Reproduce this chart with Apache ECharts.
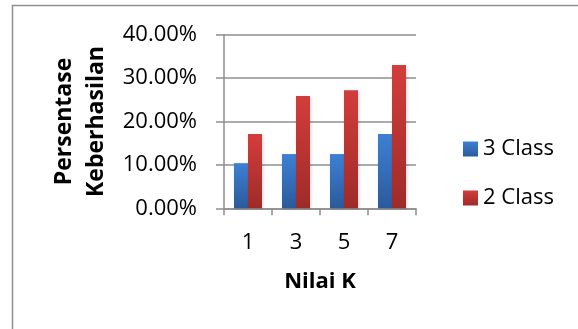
<!DOCTYPE html>
<html>
<head>
<meta charset="utf-8">
<script src="https://cdn.jsdelivr.net/npm/echarts@6/dist/echarts.min.js"></script>
<style>
  html, body { margin: 0; padding: 0; background: #fff; overflow: hidden; }
  #chart { width: 578px; height: 329px; }
</style>
</head>
<body>
<div id="chart"></div>
<script>
// K values on the x axis
const categories = ['1', '3', '5', '7'];
// Success percentage per K value
const class3 = [10.4, 12.5, 12.5, 17.1];
const class2 = [17.1, 25.9, 27.2, 33.0];
const seriesNames = ['3 Class', '2 Class'];
const yTicks = [0, 10, 20, 30, 40];

const FONT = '"Open Sans", sans-serif';

function vGrad(top, bottom) {
  return new echarts.graphic.LinearGradient(0, 0, 0, 1, [
    { offset: 0, color: top },
    { offset: 1, color: bottom }
  ]);
}

const chart = echarts.init(document.getElementById('chart'), null, { renderer: 'canvas' });

chart.setOption({
  animation: false,
  backgroundColor: '#fff',
  // chart-area frame: only its left and top edges fall inside the page
  graphic: [{
    type: 'polyline',
    shape: { points: [[12.5, 329], [12.5, 5.5], [578, 5.5]] },
    style: { fill: 'none', stroke: '#8f8f8f', lineWidth: 1.5 },
    silent: true
  }],
  grid: { left: 224, right: 162, top: 34.7, bottom: 120.7 },
  legend: {
    orient: 'vertical',
    left: 458,
    top: 133,
    icon: 'rect',
    itemWidth: 15,
    itemHeight: 15,
    itemGap: 27,
    textStyle: { fontFamily: FONT, fontSize: 22, color: '#000' },
    data: seriesNames
  },
  xAxis: {
    type: 'category',
    data: categories,
    name: 'Nilai K',
    nameLocation: 'middle',
    nameGap: 62,
    nameTextStyle: { fontFamily: FONT, fontSize: 22, fontWeight: 'bold', color: '#000' },
    axisLine: { lineStyle: { color: '#8f8f8f', width: 1.5 } },
    axisTick: { show: true, length: 7, lineStyle: { color: '#8f8f8f', width: 1.5 } },
    axisLabel: { margin: 23, fontFamily: FONT, fontSize: 22, color: '#000' }
  },
  yAxis: {
    type: 'value',
    min: yTicks[0],
    max: yTicks[yTicks.length - 1],
    interval: yTicks[1] - yTicks[0],
    name: 'Persentase\nKeberhasilan',
    nameLocation: 'middle',
    nameGap: 112,
    nameTextStyle: { fontFamily: FONT, fontSize: 23, fontWeight: 'bold', color: '#000', lineHeight: 32 },
    axisLine: { show: true, lineStyle: { color: '#8f8f8f', width: 1.5 } },
    axisTick: { show: true, length: 8, lineStyle: { color: '#8f8f8f', width: 1.5 } },
    splitLine: { lineStyle: { color: '#8f8f8f', width: 1.5 } },
    axisLabel: {
      margin: 27,
      fontFamily: FONT,
      fontSize: 22,
      color: '#000',
      formatter: v => v.toFixed(2) + '%'
    }
  },
  series: [
    {
      name: seriesNames[0],
      type: 'bar',
      data: class3,
      barWidth: 14,
      barGap: '0%',
      itemStyle: {
        color: vGrad('#3e80d4', '#2b5a9b'),
        shadowColor: 'rgba(0,0,0,0.18)',
        shadowBlur: 3,
        shadowOffsetX: 1,
        shadowOffsetY: 1
      }
    },
    {
      name: seriesNames[1],
      type: 'bar',
      data: class2,
      barWidth: 14,
      barGap: '0%',
      itemStyle: {
        color: vGrad('#d33d3b', '#9e2b29'),
        shadowColor: 'rgba(0,0,0,0.18)',
        shadowBlur: 3,
        shadowOffsetX: 1,
        shadowOffsetY: 1
      }
    }
  ]
});
</script>
</body>
</html>
